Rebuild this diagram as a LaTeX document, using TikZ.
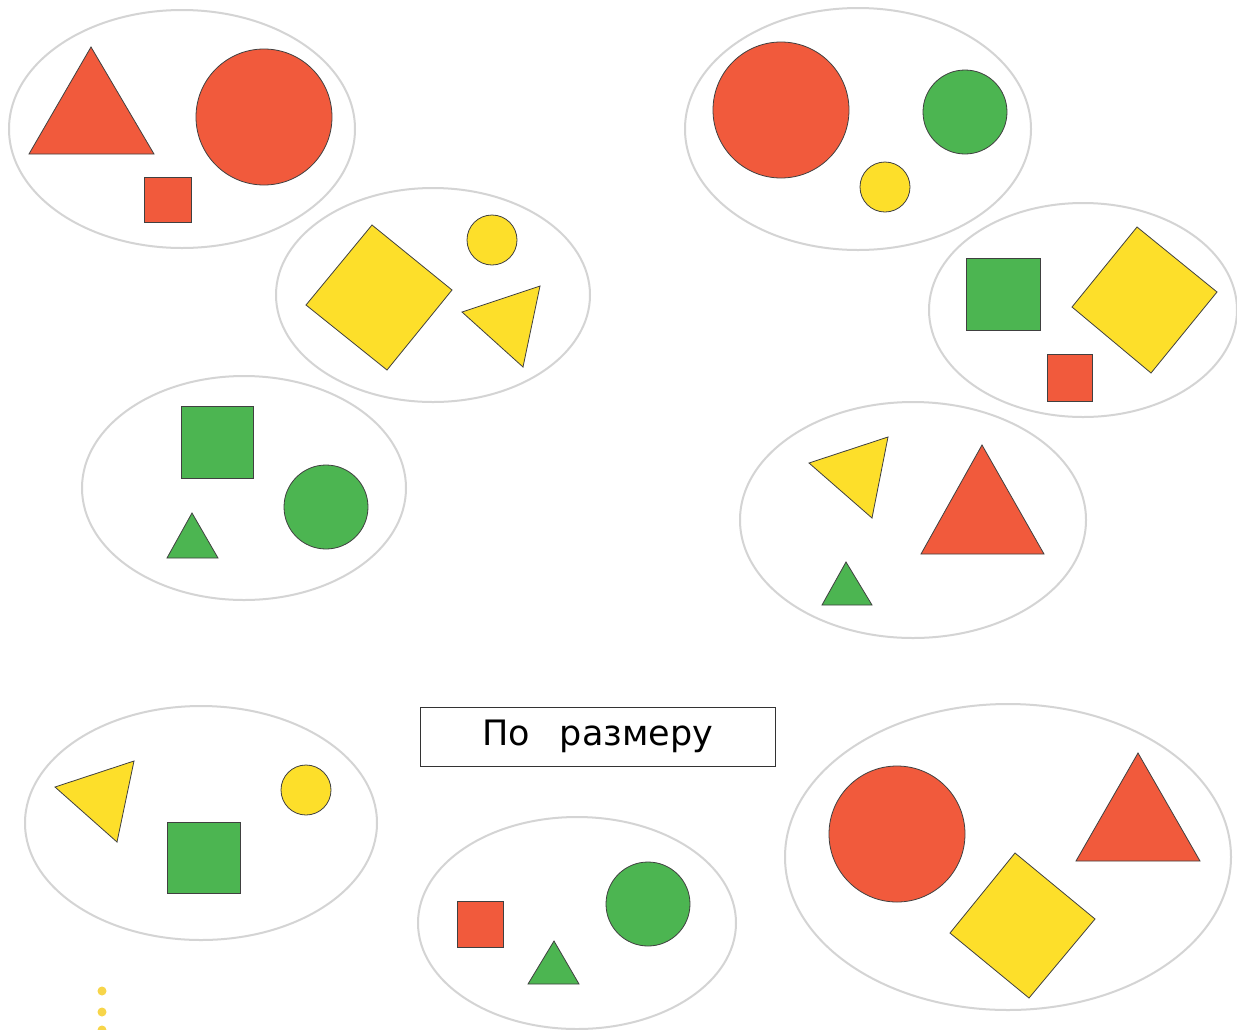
\documentclass[tikz,border=0pt]{standalone}
\usepackage{fontspec}
\newfontfamily\labelfont{DejaVu Sans}
\definecolor{fred}{HTML}{F15A3C}
\definecolor{fyel}{HTML}{FDDF2A}
\definecolor{fgrn}{HTML}{4CB551}
\definecolor{ring}{HTML}{D4D4D4}
\definecolor{dotyel}{HTML}{F7D54A}
\begin{document}
\begin{tikzpicture}[x=1pt,y=-1pt,
  grp/.style={draw=ring,line width=2pt},
  shp/.style={draw=black!75,line width=0.8pt,line join=miter},
  rd/.style={shp,fill=fred},
  yl/.style={shp,fill=fyel},
  gn/.style={shp,fill=fgrn}]
\useasboundingbox (0,0) rectangle (1237,1029);
\fill[white] (0,0) rectangle (1237,1029);
% group 1
\draw[grp] (182,129) ellipse [x radius=173,y radius=119];
\draw[rd] (91,47) -- (154,154) -- (29,154) -- cycle;
\draw[rd] (264,117) circle [radius=68];
\draw[rd] (144,177) rectangle (191,222);
% group 2
\draw[grp] (433,295) ellipse [x radius=157,y radius=107];
\draw[yl] (372,225) -- (452,290) -- (387,370) -- (306,305) -- cycle;
\draw[yl] (492,240) circle [radius=25];
\draw[yl] (462,312) -- (540,286) -- (523,367) -- cycle;
% group 3
\draw[grp] (244,488) ellipse [x radius=162,y radius=112];
\draw[gn] (181,406) rectangle (253,478);
\draw[gn] (326,507) circle [radius=42];
\draw[gn] (192,513) -- (218,558) -- (167,558) -- cycle;
% group 4
\draw[grp] (858,129) ellipse [x radius=173,y radius=121];
\draw[rd] (781,110) circle [radius=68];
\draw[gn] (965,112) circle [radius=42];
\draw[yl] (885,187) circle [radius=25];
% group 5
\draw[grp] (1083,310) ellipse [x radius=154,y radius=107];
\draw[gn] (966,258) rectangle (1040,330);
\draw[yl] (1137,227) -- (1217,292) -- (1151,373) -- (1072,307) -- cycle;
\draw[rd] (1047,354) rectangle (1092,401);
% group 6
\draw[grp] (913,520) ellipse [x radius=173,y radius=118];
\draw[yl] (809,463) -- (888,437) -- (872,518) -- cycle;
\draw[rd] (982,445) -- (1044,554) -- (921,554) -- cycle;
\draw[gn] (846,562) -- (872,605) -- (822,605) -- cycle;
% group 7
\draw[grp] (201,823) ellipse [x radius=176,y radius=117];
\draw[yl] (55,787) -- (134,761) -- (117,842) -- cycle;
\draw[gn] (167,822) rectangle (240,893);
\draw[yl] (306,790) circle [radius=25];
% group 8
\draw[grp] (577,923) ellipse [x radius=159,y radius=106];
\draw[rd] (457,901) rectangle (503,947);
\draw[gn] (554,941) -- (579,984) -- (528,984) -- cycle;
\draw[gn] (648,904) circle [radius=42];
% group 9
\draw[grp] (1008,857) ellipse [x radius=223,y radius=153];
\draw[rd] (897,834) circle [radius=68];
\draw[rd] (1138,753) -- (1200,861) -- (1076,861) -- cycle;
\draw[yl] (1015,853) -- (1095,919) -- (1029,998) -- (950,933) -- cycle;
% label
\node[draw=black!80,line width=1pt,minimum width=355pt,minimum height=59pt,inner sep=0pt,
  font=\labelfont\fontsize{35}{40}\selectfont] (lbl) at (597.5,736.5) {По\hspace{30pt}размеру};
% dots
\fill[dotyel] (102,991) circle [radius=4.5];
\fill[dotyel] (102,1012) circle [radius=4.5];
\fill[dotyel] (102,1030) circle [radius=4.5];
\end{tikzpicture}
\end{document}
